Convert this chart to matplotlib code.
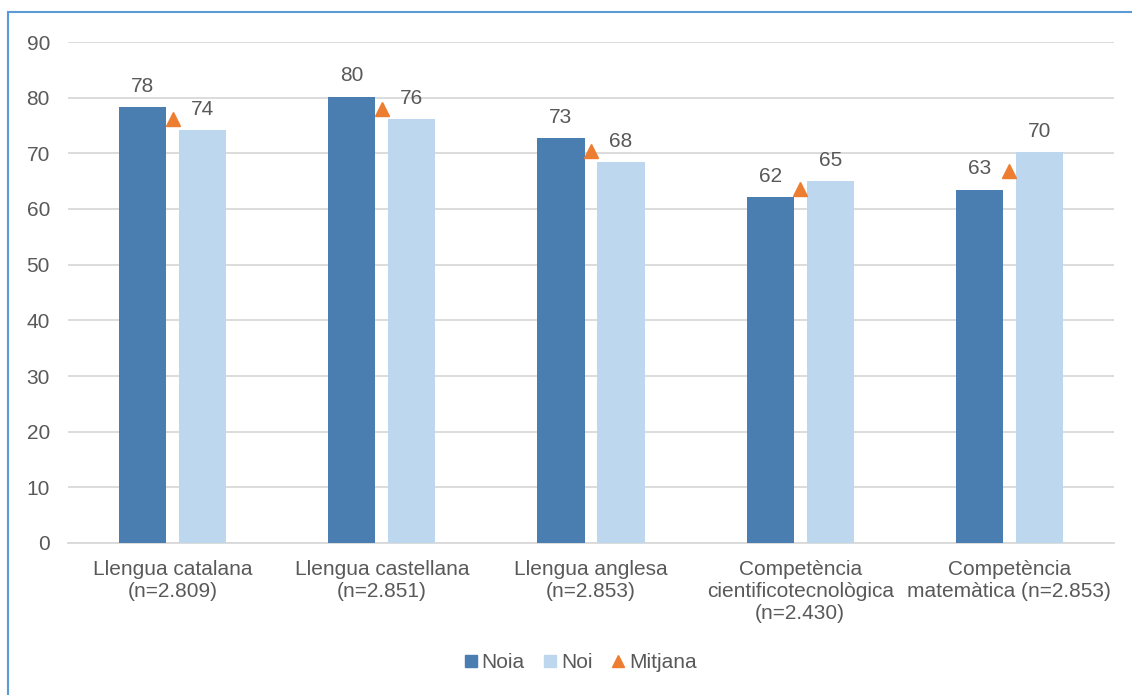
import matplotlib
matplotlib.use("Agg")
import matplotlib.pyplot as plt
import numpy as np
from matplotlib.patches import Rectangle
from matplotlib.lines import Line2D

categories = ["Llengua catalana\n(n=2.809)", "Llengua castellana\n(n=2.851)",
              "Llengua anglesa\n(n=2.853)", "Competència\ncientificotecnològica\n(n=2.430)",
              "Competència\nmatemàtica (n=2.853)"]
noia = [78.3, 80.2, 72.7, 62.1, 63.5]
noi = [74.2, 76.1, 68.4, 65.0, 70.2]
mitjana = [76.2, 78.0, 70.4, 63.6, 66.8]
noia_labels = ["78", "80", "73", "62", "63"]
noi_labels = ["74", "76", "68", "65", "70"]

plt.rcParams['font.family'] = ['Liberation Sans', 'DejaVu Sans']
W, H = 1132, 695
fig = plt.figure(figsize=(W/100, H/100), dpi=100)
ax = fig.add_axes([68/W, (H-543)/H, (1114-68)/W, (543-42)/H])

c_noia = "#4A7EB0"
c_noi = "#BDD7EE"
c_mit = "#ED7D31"
txt = "#595959"
fs = 15

x = np.arange(len(categories))
bw = 0.225
off = 0.1435
ax.bar(x - off, noia, bw, color=c_noia, zorder=3)
ax.bar(x + off, noi, bw, color=c_noi, zorder=3)
ax.plot(x, mitjana, linestyle='none', marker='^', markersize=10, color=c_mit, zorder=4)

for i in range(len(x)):
    ax.text(x[i] - off, noia[i] + 2.0, noia_labels[i], ha='center', va='bottom', fontsize=fs, color=txt)
    ax.text(x[i] + off, noi[i] + 2.0, noi_labels[i], ha='center', va='bottom', fontsize=fs, color=txt)

ax.set_xlim(-0.5, len(x) - 0.5)
ax.set_ylim(0, 90)
ax.set_yticks(range(0, 91, 10))
ax.yaxis.grid(True, color="#D9D9D9", linewidth=1.3, zorder=0)
ax.set_axisbelow(True)
for s in ['top', 'right', 'left']:
    ax.spines[s].set_visible(False)
ax.spines['bottom'].set_color("#D9D9D9")
ax.spines['bottom'].set_linewidth(1.3)
ax.tick_params(axis='both', length=0, labelsize=fs, labelcolor=txt)
ax.tick_params(axis='y', pad=13)
ax.tick_params(axis='x', pad=12)
ax.set_xticks(x)
ax.set_xticklabels(categories, linespacing=1.22)

handles = [Line2D([], [], linestyle='none', marker='s', markersize=8, color=c_noia),
           Line2D([], [], linestyle='none', marker='s', markersize=8, color=c_noi),
           Line2D([], [], linestyle='none', marker='^', markersize=9, color=c_mit)]
leg = fig.legend(handles, ["Noia", "Noi", "Mitjana"], loc='center', bbox_to_anchor=(580/W, 1 - 663/H),
                 ncol=3, frameon=False, fontsize=fs, handlelength=0.7, handletextpad=0.15,
                 columnspacing=0.9)
for t in leg.get_texts():
    t.set_color(txt)

fig.patches.append(Rectangle((8/W, -0.05), 1.2, 1 - 12/H + 0.05, transform=fig.transFigure,
                             fill=False, edgecolor="#5B9BD5", linewidth=1.5))

fig.savefig("out.png", dpi=100)
